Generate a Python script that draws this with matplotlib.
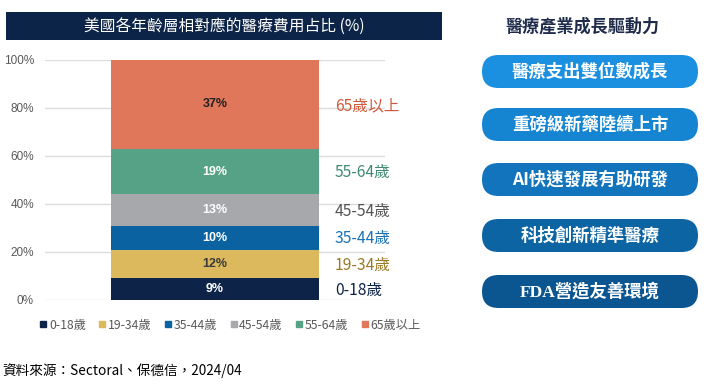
import matplotlib
matplotlib.use("Agg")
import matplotlib.pyplot as plt
from matplotlib.patches import FancyBboxPatch, Rectangle
from matplotlib.lines import Line2D

plt.rcParams["font.family"] = ["Noto Sans CJK TC", "DejaVu Sans"]

GROUPS = ["0-18歲", "19-34歲", "35-44歲", "45-54歲", "55-64歲", "65歲以上"]
SHARES = [9, 12, 10, 13, 19, 37]
BAR_COLORS = ["#0d2348", "#dcb95d", "#0b62a0", "#a7a8ab", "#56a287", "#e0775a"]
LABEL_COLORS = ["#0d2348", "#9a7a25", "#1a72b5", "#555555", "#3f8a6e", "#d0593c"]
VALUE_COLORS = ["white", "#3a3a3a", "white", "white", "white", "#222222"]
YTICKS = [0, 20, 40, 60, 80, 100]

DRIVERS = ["醫療支出雙位數成長", "重磅級新藥陸續上市", "AI快速發展有助研發",
           "科技創新精準醫療", "FDA營造友善環境"]
DRIVER_COLORS = ["#1b8fe0", "#1585d2", "#1174bd", "#0d64a3", "#0b5690"]

W, H = 707, 384
fig = plt.figure(figsize=(W / 100, H / 100), dpi=100)
fig.patch.set_facecolor("white")


def fx(px):
    return px / W


def fy(py):
    return 1 - py / H


# title bar of the chart
fig.patches.append(Rectangle((fx(6), fy(40)), fx(436), 28 / H, transform=fig.transFigure,
                             facecolor="#0c2447", edgecolor="none"))
fig.text(fx(224), fy(26), "美國各年齡層相對應的醫療費用占比 (%)", color="white",
         fontsize=11.3, ha="center", va="center")

ax = fig.add_axes([fx(45), fy(300), fx(340), 240 / H])
ax.set_xlim(0, 1)
ax.set_ylim(0, 100)
for t in YTICKS:
    ax.axhline(t, color="#dcdcdc", lw=1, zorder=0)

bottom = 0
for grp, val, col, lcol, vcol in zip(GROUPS, SHARES, BAR_COLORS, LABEL_COLORS, VALUE_COLORS):
    ax.bar(0.5, val, width=0.612, bottom=bottom, color=col, zorder=2)
    mid = bottom + val / 2
    ax.text(0.5, mid, f"{val}%", color=vcol, fontsize=9, fontweight="bold",
            ha="center", va="center", family=["Liberation Sans"], zorder=3)
    ax.text(0.853, mid - 0.5, grp, color=lcol, fontsize=11.3, ha="left", va="center", zorder=3)
    bottom += val

ax.set_yticks(YTICKS)
ax.set_yticklabels([f"{t}%" for t in YTICKS], fontsize=8.5, color="#595959",
                   family=["Liberation Sans"])
ax.tick_params(axis="y", length=0, pad=8)
ax.set_xticks([])
for s in ax.spines.values():
    s.set_visible(False)
ax.patch.set_alpha(0)

handles = [Line2D([], [], marker="s", ls="none", markersize=5, color=c) for c in BAR_COLORS]
fig.legend(handles, GROUPS, loc="center", bbox_to_anchor=(fx(230), fy(325)), ncol=6,
           frameon=False, fontsize=8.8, handlelength=0.6, handletextpad=0.15,
           columnspacing=1.05, labelcolor="#595959")

fig.text(fx(2), fy(371), "資料來源：Sectoral、保德信，2024/04", fontsize=9.8,
         color="black", ha="left", va="center")

# right panel
fig.text(fx(583), fy(26), "醫療產業成長驅動力", fontsize=12.3, color="#1f2b4a",
         ha="center", va="center", fontweight="bold")
tops = [55, 108, 163, 219, 275]
for txt, col, top in zip(DRIVERS, DRIVER_COLORS, tops):
    h = 33
    x0, x1 = 482, 698
    pill = FancyBboxPatch((x0, H - top - h), x1 - x0, h,
                          boxstyle=f"round,pad=0,rounding_size={h / 2}",
                          transform=None, facecolor=col, edgecolor="none")
    fig.patches.append(pill)
    fam = ["Liberation Serif", "Noto Sans CJK TC"] if txt.startswith("FDA") else ["Noto Sans CJK TC"]
    fig.text(fx((x0 + x1) / 2), fy(top + h / 2), txt, fontsize=12.5, color="white",
             ha="center", va="center", fontweight="bold", family=fam)

fig.savefig("out.png", dpi=100, facecolor="white")
